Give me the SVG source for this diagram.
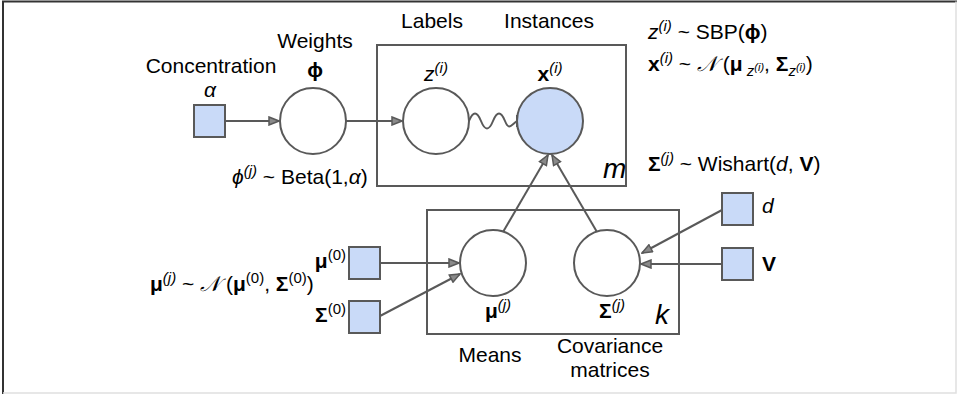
<svg xmlns="http://www.w3.org/2000/svg" width="957" height="394" viewBox="0 0 957 394">
<defs>
<style>
text{font-family:"Liberation Sans",Arial,sans-serif;font-size:21px;fill:#000}
.it{font-style:italic}
.b{font-weight:bold}
.sup{font-size:15px}
.cal{font-family:"Liberation Serif",serif;font-style:italic}
.big{font-size:28px;font-style:italic}
.edge{stroke:#595959;stroke-width:2;fill:none}
.node{stroke:#595959;stroke-width:2;fill:#fff}
.obs{stroke:#595959;stroke-width:2;fill:#c9daf8}
.plate{stroke:#595959;stroke-width:2;fill:none}
</style>
<marker id="arr" viewBox="0 0 12 10" refX="11" refY="5" markerWidth="12" markerHeight="10" markerUnits="userSpaceOnUse" orient="auto">
<path d="M1,1 L11,5 L1,9 Z" fill="#8a8a8a" stroke="#595959" stroke-width="1.5"/>
</marker>
</defs>
<rect x="0" y="0" width="957" height="394" fill="#fff"/>
<path d="M3,394 V1.5 H957" stroke="#333" stroke-width="2" fill="none"/>
<path d="M3,393 H956 V1.5" stroke="#e0e0e0" stroke-width="1.5" fill="none"/>

<g id="plate-m"><rect class="plate" x="377" y="45" width="249" height="141"/><text class="big" x="603" y="178">m</text></g>
<g id="plate-k"><rect class="plate" x="427" y="210" width="252" height="124"/><text class="big" x="655" y="324">k</text></g>

<g id="connectors">
<line class="edge" x1="225" y1="121" x2="279" y2="121" marker-end="url(#arr)"/>
<line class="edge" x1="346" y1="121" x2="402" y2="121" marker-end="url(#arr)"/>
<path class="edge" d="M469,121 c4,-10 8,-10 12,0 s8,10 12,0 s8,-10 12,0 s6,4 12,0"/>
<line class="edge" x1="517" y1="115" x2="517" y2="127"/>
<line class="edge" x1="503" y1="232" x2="548" y2="155" marker-end="url(#arr)"/>
<line class="edge" x1="597" y1="232" x2="552" y2="155" marker-end="url(#arr)"/>
<line class="edge" x1="380" y1="263" x2="459" y2="263" marker-end="url(#arr)"/>
<line class="edge" x1="380" y1="316" x2="460" y2="274" marker-end="url(#arr)"/>
<line class="edge" x1="722" y1="210" x2="642" y2="253" marker-end="url(#arr)"/>
<line class="edge" x1="722" y1="264" x2="641" y2="264" marker-end="url(#arr)"/>
</g>

<g id="alpha"><rect class="obs" x="194" y="105" width="31" height="32"/><text x="211" y="73" text-anchor="middle">Concentration</text><text class="it" x="210" y="97" text-anchor="middle" font-size="20">α</text></g>
<g id="phi"><circle class="node" cx="313" cy="121" r="33"/><text x="315" y="48" text-anchor="middle">Weights</text><text class="b" x="315" y="77" text-anchor="middle" font-size="23">ϕ</text><text x="232" y="184"><tspan class="it">ϕ</tspan><tspan class="sup it" dy="-8">(j)</tspan><tspan dy="8"> ~ Beta(1,</tspan><tspan class="it">α</tspan><tspan>)</tspan></text></g>
<g id="z"><circle class="node" cx="436" cy="121" r="33"/><text x="432" y="28" text-anchor="middle">Labels</text><text x="436" y="81" text-anchor="middle"><tspan class="it">z</tspan><tspan class="sup it" dy="-8">(i)</tspan></text></g>
<g id="x"><circle class="obs" cx="550" cy="121" r="33"/><text x="549" y="28" text-anchor="middle">Instances</text><text x="550" y="81" text-anchor="middle"><tspan class="b">x</tspan><tspan class="sup it" dy="-8">(i)</tspan></text></g>
<g id="eqs">
<text x="648" y="39"><tspan class="it">z</tspan><tspan class="sup it" dy="-8">(i)</tspan><tspan dy="8"> ~ SBP(</tspan><tspan class="b">ϕ</tspan><tspan>)</tspan></text>
<text x="648" y="71"><tspan class="b">x</tspan><tspan class="sup it" dy="-8">(i)</tspan><tspan dy="8"> ~ </tspan><tspan class="cal">𝒩</tspan><tspan> (</tspan><tspan class="b">μ</tspan><tspan class="sup it" dy="5"> z</tspan><tspan class="it" font-size="11" dy="-5">(i)</tspan><tspan dy="0">, </tspan><tspan class="b">Σ</tspan><tspan class="sup it" dy="5">z</tspan><tspan font-size="11" class="it" dy="-5">(i)</tspan><tspan>)</tspan></text>
<text x="648" y="171"><tspan class="b">Σ</tspan><tspan class="sup it" dy="-8">(j)</tspan><tspan dy="8"> ~ Wishart(</tspan><tspan class="it">d</tspan><tspan>, </tspan><tspan class="b">V</tspan><tspan>)</tspan></text>
</g>
<g id="mu0"><rect class="obs" x="349" y="247" width="31" height="32"/><text x="346" y="268" text-anchor="end"><tspan class="b">μ</tspan><tspan class="sup" dy="-8">(0)</tspan></text></g>
<g id="sigma0"><rect class="obs" x="349" y="301" width="31" height="32"/><text x="346" y="322" text-anchor="end"><tspan class="b">Σ</tspan><tspan class="sup" dy="-8">(0)</tspan></text></g>
<g id="mu-eq"><text x="150" y="291"><tspan class="b">μ</tspan><tspan class="sup it" dy="-8">(j)</tspan><tspan dy="8"> ~ </tspan><tspan class="cal">𝒩</tspan><tspan> (</tspan><tspan class="b">μ</tspan><tspan class="sup" dy="-8">(0)</tspan><tspan dy="8">, </tspan><tspan class="b">Σ</tspan><tspan class="sup" dy="-8">(0)</tspan><tspan dy="8">)</tspan></text></g>
<g id="mu"><circle class="node" cx="493" cy="263" r="33"/><text x="498" y="318" text-anchor="middle"><tspan class="b">μ</tspan><tspan class="sup it" dy="-8">(j)</tspan></text><text x="490" y="362" text-anchor="middle">Means</text></g>
<g id="sigma"><circle class="node" cx="607" cy="263" r="33"/><text x="612" y="318" text-anchor="middle"><tspan class="b">Σ</tspan><tspan class="sup it" dy="-8">(j)</tspan></text><text x="610" y="353" text-anchor="middle">Covariance</text><text x="610" y="377" text-anchor="middle">matrices</text></g>
<g id="d"><rect class="obs" x="722" y="193" width="31" height="32"/><text class="it" x="762" y="213">d</text></g>
<g id="V"><rect class="obs" x="722" y="248" width="31" height="32"/><text class="b" x="762" y="271">V</text></g>
</svg>
